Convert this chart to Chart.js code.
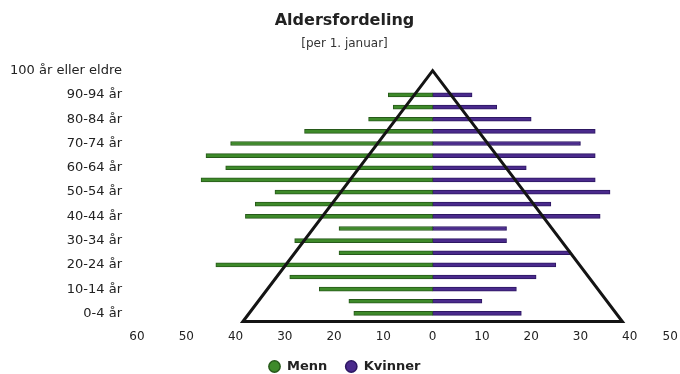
<!DOCTYPE html>
<html lang="no">
<head>
<meta charset="utf-8">
<title>Aldersfordeling</title>
<script src="https://cdn.jsdelivr.net/npm/chart.js@4"></script>
<style>
  html, body { margin: 0; padding: 0; background: #ffffff; }
  #wrap { position: relative; width: 680px; height: 374px; }
</style>
</head>
<body>
<div id="wrap"><canvas id="pyramide"></canvas></div>
<script>
// Aldersgrupper, fra yngst til eldst
const ageGroups = [
  '0-4 år', '5-9 år', '10-14 år', '15-19 år', '20-24 år', '25-29 år',
  '30-34 år', '35-39 år', '40-44 år', '45-49 år', '50-54 år', '55-59 år',
  '60-64 år', '65-69 år', '70-74 år', '75-79 år', '80-84 år', '85-89 år',
  '90-94 år', '95-99 år', '100 år eller eldre'
];

// Antall personer per aldersgruppe
const menn    = [16, 17, 23, 29, 44, 19, 28, 19, 38, 36, 32, 47, 42, 46, 41, 26, 13, 8, 9, 0, 0];
const kvinner = [18, 10, 17, 21, 25, 28, 15, 15, 34, 24, 36, 33, 19, 33, 30, 33, 20, 13, 8, 0, 0];

// Verdiakse (menn til venstre, kvinner til høyre)
const xTicks = [-60, -50, -40, -30, -20, -10, 0, 10, 20, 30, 40, 50];

// Pyramideomriss: venstre hjørne, topp, høyre hjørne (i verdienheter)
const outline = [-38.5, 0, 38.5];

const FONT = "'DejaVu Sans', sans-serif";
const GREEN = '#3e8a2a', GREEN_EDGE = '#275a1a';
const PURPLE = '#4a2a8c', PURPLE_EDGE = '#2d1762';

// Tegner trekanten over stolpene ved hjelp av diagrammets egne skalaer
const pyramidOutline = {
  id: 'pyramidOutline',
  afterDatasetsDraw(chart) {
    const { ctx, scales: { x, y }, chartArea } = chart;
    const topY = y.getPixelForValue(ageGroups.length - 1);
    const baseY = chartArea.bottom + 2;
    ctx.save();
    ctx.beginPath();
    ctx.moveTo(x.getPixelForValue(outline[0]), baseY);
    ctx.lineTo(x.getPixelForValue(outline[1]), topY);
    ctx.lineTo(x.getPixelForValue(outline[2]), baseY);
    ctx.closePath();
    ctx.lineWidth = 3;
    ctx.lineJoin = 'miter';
    ctx.strokeStyle = '#141414';
    ctx.stroke();
    ctx.restore();
  }
};

new Chart(document.getElementById('pyramide'), {
  type: 'bar',
  data: {
    labels: ageGroups,
    datasets: [
      {
        label: 'Menn',
        data: menn.map(v => -v),
        backgroundColor: GREEN,
        borderColor: GREEN_EDGE,
        borderWidth: 1,
        borderSkipped: false,
        barThickness: 4
      },
      {
        label: 'Kvinner',
        data: kvinner,
        backgroundColor: PURPLE,
        borderColor: PURPLE_EDGE,
        borderWidth: 1,
        borderSkipped: false,
        barThickness: 4
      }
    ]
  },
  options: {
    indexAxis: 'y',
    responsive: true,
    maintainAspectRatio: false,
    animation: false,
    layout: { padding: { top: 0, left: 10, right: 1, bottom: -9 } },
    scales: {
      x: {
        stacked: true,
        min: -60,
        max: 50,
        afterBuildTicks(scale) {
          scale.ticks = xTicks.map(v => ({ value: v }));
        },
        afterFit(scale) {
          scale.paddingLeft = 0;
          scale.paddingRight = 0;
          scale.height = 22.5;
        },
        grid: { display: false, drawTicks: false },
        border: { display: false },
        ticks: {
          padding: 10,
          color: '#222',
          font: { family: FONT, size: 12 },
          callback: v => (v === 50 ? '50\u2007\u2007\u2009' : String(Math.abs(v)))
        }
      },
      y: {
        stacked: true,
        reverse: true,
        afterFit(scale) { scale.width = 127; },
        grid: { display: false, drawTicks: false },
        border: { display: false },
        ticks: {
          autoSkip: false,
          padding: 15,
          color: '#222',
          font: { family: FONT, size: 13 },
          callback: function (value, index) {
            return index % 2 === 0 ? this.getLabelForValue(value) : '';
          }
        }
      }
    },
    plugins: {
      title: {
        display: true,
        text: 'Aldersfordeling',
        color: '#222',
        font: { family: FONT, size: 16, weight: 'bold' },
        padding: { top: 11, bottom: 0 }
      },
      subtitle: {
        display: true,
        text: '[per 1. januar]',
        color: '#333',
        font: { family: FONT, size: 12 },
        padding: { top: 6.5, bottom: 13.5 }
      },
      legend: {
        position: 'bottom',
        labels: {
          usePointStyle: true,
          pointStyle: 'circle',
          boxWidth: 12,
          boxHeight: 8,
          padding: 18,
          color: '#222',
          font: { family: FONT, size: 13, weight: 'bold' },
          generateLabels(chart) {
            return chart.data.datasets.map((ds, i) => ({
              text: ds.label,
              fillStyle: ds.backgroundColor,
              strokeStyle: ds.borderColor,
              lineWidth: 1.5,
              pointStyle: 'circle',
              fontColor: '#222',
              datasetIndex: i,
              hidden: false
            }));
          }
        }
      },
      tooltip: { enabled: false }
    }
  },
  plugins: [pyramidOutline]
});
</script>
</body>
</html>
